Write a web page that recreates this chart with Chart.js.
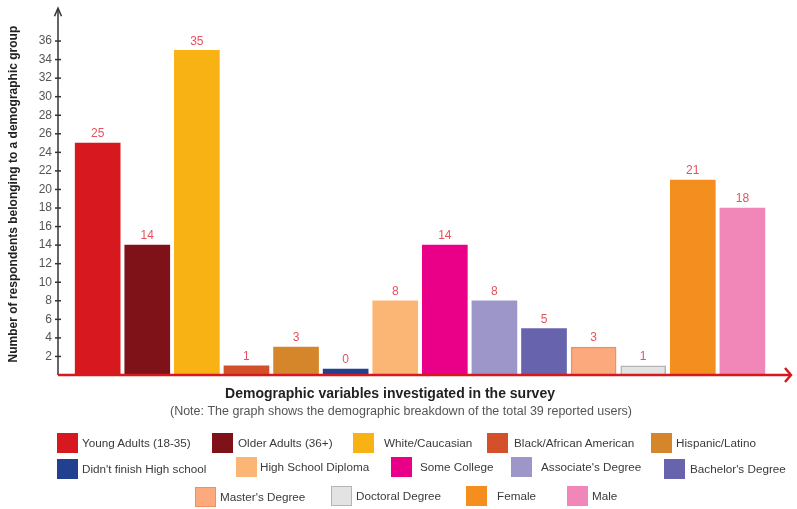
<!DOCTYPE html>
<html>
<head>
<meta charset="utf-8">
<script src="https://cdn.jsdelivr.net/npm/chart.js@4.4.0/dist/chart.umd.min.js"></script>
<style>
  body { margin: 0; background: #fff; }
  #wrap { position: relative; width: 797px; height: 509px; font-family: "Liberation Sans", Arial, sans-serif; }
  #chart { position: absolute; left: 0; top: 0; }
  .item { position: absolute; font-size: 11.7px; color: #3a3a3a; white-space: nowrap; }
  .item span.box { position: absolute; left: 0; top: 0; width: 21px; height: 20px; box-sizing: border-box; }
  .item span.txt { position: absolute; top: 3px; }
</style>
</head>
<body>
<div id="wrap">
  <canvas id="chart" width="797" height="509"></canvas>
  <div id="legend"></div>
</div>
<script>
// categories and counts (number of respondents)
var categories = ['Young Adults (18-35)', 'Older Adults (36+)', 'White/Caucasian', 'Black/African American',
  'Hispanic/Latino', "Didn't finish High school", 'High School Diploma', 'Some College',
  "Associate's Degree", "Bachelor's Degree", "Master's Degree", 'Doctoral Degree', 'Female', 'Male'];
var counts = [25, 14, 35, 1, 3, 0, 8, 14, 8, 5, 3, 1, 21, 18];
var yTicks = [2, 4, 6, 8, 10, 12, 14, 16, 18, 20, 22, 24, 26, 28, 30, 32, 34, 36];

var fills = ['#d7191f', '#7f1218', '#f9b214', '#d3502a', '#d6862a', '#233f8f', '#fbb574', '#ea0088',
  '#9d97c9', '#6763ac', '#fcaa7d', '#e3e3e3', '#f38e1f', '#f087b8'];
var borders = fills.slice();
borders[10] = '#f0905e';
borders[11] = '#b4b4b4';
var borderW = fills.map(function (c, i) { return (i == 10 || i == 11) ? 1.5 : 0; });

// legend layout: [left, top, text offset]
var legendPos = [
  [57, 433, 25], [212, 433, 26], [353, 433, 31], [487, 433, 27], [651, 433, 25],
  [57, 459, 25], [236, 457, 24], [391, 457, 29], [511, 457, 30], [664, 459, 26],
  [195, 487, 25], [331, 486, 25], [466, 486, 31], [567, 486, 25]
];

var legend = document.getElementById('legend');
categories.forEach(function (c, i) {
  var d = document.createElement('div');
  d.className = 'item';
  d.style.left = legendPos[i][0] + 'px';
  d.style.top = legendPos[i][1] + 'px';
  var b = document.createElement('span');
  b.className = 'box';
  b.style.background = fills[i];
  if (borderW[i]) b.style.border = '1.5px solid ' + borders[i];
  var t = document.createElement('span');
  t.className = 'txt';
  t.style.left = legendPos[i][2] + 'px';
  t.textContent = c;
  d.appendChild(b);
  d.appendChild(t);
  legend.appendChild(d);
});

// axes arrows, crossing tick marks, value labels and x titles
var decor = {
  id: 'decor',
  afterDatasetsDraw: function (chart) {
    var ctx = chart.ctx, a = chart.chartArea, y = chart.scales.y;
    ctx.save();
    // y axis with arrow
    ctx.strokeStyle = '#333';
    ctx.lineWidth = 1.5;
    ctx.beginPath();
    ctx.moveTo(a.left, a.bottom);
    ctx.lineTo(a.left, a.top - 4);
    ctx.stroke();
    ctx.beginPath();
    ctx.moveTo(a.left - 3.5, a.top + 3);
    ctx.lineTo(a.left, a.top - 5);
    ctx.lineTo(a.left + 3.5, a.top + 3);
    ctx.stroke();
    yTicks.forEach(function (v) {
      var py = y.getPixelForValue(v);
      ctx.beginPath();
      ctx.moveTo(a.left - 3, py);
      ctx.lineTo(a.left + 3, py);
      ctx.stroke();
    });
    // x axis red line with arrow
    ctx.strokeStyle = '#d7191f';
    ctx.lineWidth = 2.5;
    ctx.beginPath();
    ctx.moveTo(a.left, a.bottom);
    ctx.lineTo(a.right, a.bottom);
    ctx.stroke();
    ctx.beginPath();
    ctx.moveTo(a.right - 5, a.bottom - 7);
    ctx.lineTo(a.right + 1, a.bottom);
    ctx.lineTo(a.right - 5, a.bottom + 7);
    ctx.stroke();
    // value labels
    ctx.fillStyle = '#e4525d';
    ctx.font = '12px "Liberation Sans", Arial, sans-serif';
    ctx.textAlign = 'center';
    ctx.textBaseline = 'bottom';
    chart.getDatasetMeta(0).data.forEach(function (bar, i) {
      ctx.fillText(counts[i], bar.x, bar.y - 3);
    });
    // x axis titles
    ctx.fillStyle = '#222';
    ctx.font = 'bold 14px "Liberation Sans", Arial, sans-serif';
    ctx.textBaseline = 'middle';
    ctx.fillText('Demographic variables investigated in the survey', 390, 394);
    ctx.fillStyle = '#555';
    ctx.font = '12.5px "Liberation Sans", Arial, sans-serif';
    ctx.fillText('(Note: The graph shows the demographic breakdown of the total 39 reported users)', 401, 412);
    ctx.restore();
  }
};

new Chart(document.getElementById('chart'), {
  type: 'bar',
  data: {
    datasets: [{
      data: counts.map(function (v, i) { return { x: i, y: v }; }),
      backgroundColor: fills,
      borderColor: borders,
      borderWidth: borderW,
      barThickness: 45,
      minBarLength: 6
    }]
  },
  options: {
    responsive: false,
    animation: false,
    layout: { padding: { top: 10, bottom: 134, left: 0, right: 7 } },
    plugins: { legend: { display: false }, tooltip: { enabled: false } },
    scales: {
      x: { type: 'linear', display: false, offset: false, min: -0.8, max: 13.96 },
      y: {
        min: 0,
        max: 39,
        afterFit: function (s) { s.width = 58; },
        afterBuildTicks: function (s) {
          s.ticks = yTicks.map(function (v) { return { value: v }; });
        },
        grid: { display: false, drawTicks: false, tickLength: 0 },
        border: { display: false },
        ticks: {
          padding: 6,
          color: '#555',
          font: { size: 12, family: '"Liberation Sans", Arial, sans-serif' }
        },
        title: {
          display: true,
          text: 'Number of respondents belonging to a demographic group',
          color: '#222',
          padding: { top: 6, bottom: 0 },
          font: { size: 12, weight: 'bold', family: '"Liberation Sans", Arial, sans-serif' }
        }
      }
    }
  },
  plugins: [decor]
});
</script>
</body>
</html>
